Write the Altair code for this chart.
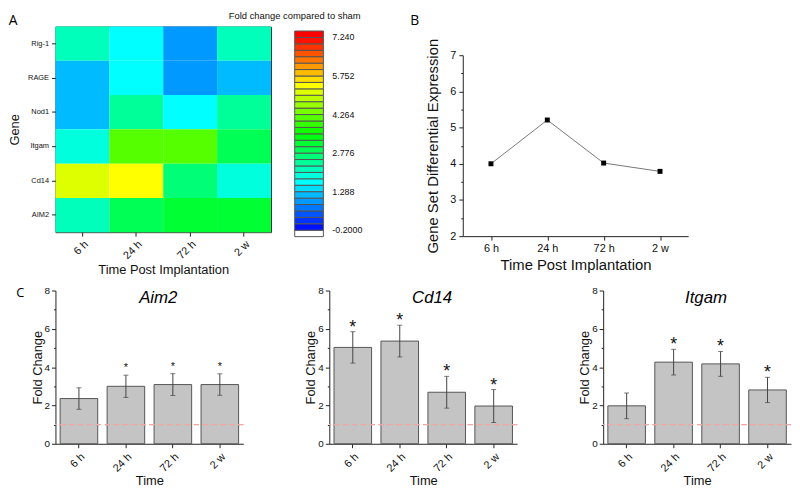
import altair as alt
import pandas as pd

FONT = "Liberation Sans"
LETTER_FONT = "Open Sans"

times = ["6 h", "24 h", "72 h", "2 w"]
genes = ["Rig-1", "RAGE", "Nod1", "Itgam", "Cd14", "AIM2"]

# Panel A heatmap values (fold change vs sham)
heat_rig1 = [2.1, 1.65, 0.9, 2.1]
heat_rage = [1.2, 1.7, 0.82, 1.04]
heat_nod1 = [1.2, 2.4, 1.7, 2.3]
heat_itgam = [1.9, 4.14, 4.14, 2.95]
heat_cd14 = [5.05, 5.38, 2.55, 1.85]
heat_aim2 = [2.2, 2.9, 3.2, 3.2]
cbar_ticks = [-0.2, 1.288, 2.776, 4.264, 5.752, 7.24]
cbar_labels = ["-0.2000", "1.288", "2.776", "4.264", "5.752", "7.240"]

# Panel B
b_values = [4.0, 5.21, 4.02, 3.79]

# Panel C
aim2_mean = [2.36, 3.0, 3.09, 3.09]
aim2_err = [0.56, 0.58, 0.57, 0.56]
aim2_sig = [False, True, True, True]
cd14_mean = [5.03, 5.36, 2.69, 1.97]
cd14_err = [0.82, 0.83, 0.83, 0.86]
cd14_sig = [True, True, True, True]
itgam_mean = [1.98, 4.26, 4.17, 2.81]
itgam_err = [0.67, 0.67, 0.65, 0.66]
itgam_sig = [False, True, True, True]

# ---------- colour scale (Origin rainbow, 30 levels + under/over bands)
anchors = [(0, 0, 255), (0, 255, 255), (0, 255, 0), (255, 255, 0), (255, 0, 0)]


def rainbow(t):
    seg = min(int(t * 4), 3)
    f = t * 4 - seg
    a, b = anchors[seg], anchors[seg + 1]
    return "#%02x%02x%02x" % tuple(round(a[i] + (b[i] - a[i]) * f) for i in range(3))


band_colors = ["#ffffff"] + [rainbow((k + 0.5) / 30) for k in range(30)] + ["#ff0000"]
step = (cbar_ticks[-1] - cbar_ticks[0]) / 30
cdomain = [cbar_ticks[0] - step, cbar_ticks[-1] + step]

label_expr = " : ".join(
    f"abs(datum.value - ({v})) < 0.01 ? '{s}'" for v, s in zip(cbar_ticks, cbar_labels)
) + " : ''"

heat_rows = {"Rig-1": heat_rig1, "RAGE": heat_rage, "Nod1": heat_nod1,
             "Itgam": heat_itgam, "Cd14": heat_cd14, "AIM2": heat_aim2}
heat_df = pd.DataFrame([
    {"gene": g, "time": t, "value": v}
    for g, vals in heat_rows.items() for t, v in zip(times, vals)
])

heat = alt.Chart(heat_df).mark_rect().encode(
    x=alt.X("time:N", sort=times, title="Time Post Implantation",
            axis=alt.Axis(labelAngle=-45, labelFontSize=11, titleFontSize=13, domain=False,
                          tickSize=4, labelPadding=2, titlePadding=3)),
    y=alt.Y("gene:N", sort=genes, title="Gene",
            axis=alt.Axis(labelFontSize=7.5, titleFontSize=13, domain=False, tickSize=4,
                          labelPadding=3, titlePadding=6)),
    color=alt.Color("value:Q",
                    scale=alt.Scale(type="quantize", domain=cdomain, range=band_colors, nice=False),
                    legend=alt.Legend(type="gradient", orient="none", legendX=175, legendY=-16,
                                      direction="vertical", gradientLength=208, gradientThickness=29,
                                      gradientStrokeColor="#555", gradientStrokeWidth=1,
                                      title="Fold change compared to sham", titleFontSize=9.5,
                                      titleFont=FONT, titleFontWeight="normal", titleAnchor="start",
                                      titleAlign="center", titleLimit=400, titlePadding=11,
                                      padding=0, labelExpr=label_expr, labelFontSize=9,
                                      labelFont=FONT, labelOffset=9, labelOverlap=False)),
).properties(
    width=218, height=208,
    view=alt.ViewBackground(stroke="#333", strokeWidth=1),
    title=alt.TitleParams("A", anchor="start", frame="bounds", fontSize=14, font=LETTER_FONT,
                          fontWeight="normal", offset=-1),
)

# ---------- Panel B
b_df = pd.DataFrame({"time": times, "value": b_values})
b_x = dict(field="time", type="nominal", sort=times, title="Time Post Implantation",
           scale=alt.Scale(type="point", padding=0.5))
b_line = alt.Chart(b_df).mark_line(
    color="#777", strokeWidth=1,
    point=alt.OverlayMarkDef(shape="square", filled=True, color="black", size=25, opacity=1),
).encode(
    x=alt.X(**b_x, axis=alt.Axis(labelAngle=0, labelFontSize=11, titleFontSize=15, tickSize=4,
                                 labelPadding=3, titlePadding=4)),
    y=alt.Y("value:Q", title="Gene Set Differential Expression",
            scale=alt.Scale(domain=[2, 7], nice=False, zero=False, range=[212, 29]),
            axis=alt.Axis(values=[2, 3, 4, 5, 6, 7], labelFontSize=11, titleFontSize=15,
                          tickSize=4, grid=False, orient="left", labelPadding=3, titlePadding=9)),
)
b_minor = alt.Chart(b_df).mark_point(opacity=0).encode(
    x=alt.X(**b_x),
    y=alt.Y("value:Q", axis=alt.Axis(values=[2.5, 3.5, 4.5, 5.5, 6.5], labels=False, domain=False,
                                     tickSize=2, title=None, grid=False, orient="left")),
)
panel_b = alt.layer(b_line, b_minor).resolve_axis(y="independent").properties(
    width=228, height=212,
    title=alt.TitleParams("B", anchor="start", frame="bounds", fontSize=14, font=LETTER_FONT,
                          fontWeight="normal", offset=-1, dx=-16),
)


# ---------- Panel C
def bar_panel(gene, means, errs, sig, star_size, star_dy):
    df = pd.DataFrame({"time": times, "mean": means, "err": errs,
                       "star": ["*" if s else "" for s in sig]})
    df["lo"] = df["mean"] - df["err"]
    df["hi"] = df["mean"] + df["err"]
    xkw = dict(field="time", type="nominal", sort=times, title="Time",
               scale=alt.Scale(paddingInner=0.2, paddingOuter=0.1))
    yscale = alt.Scale(domain=[0, 8], nice=False)
    bars = alt.Chart(df).mark_bar(color="#c4c4c4", stroke="#555", strokeWidth=1).encode(
        x=alt.X(**xkw, axis=alt.Axis(labelAngle=-45, labelFontSize=11, titleFontSize=13,
                                     tickSize=4, labelPadding=3, titlePadding=1)),
        y=alt.Y("mean:Q", scale=yscale, title="Fold Change",
                axis=alt.Axis(values=[0, 2, 4, 6, 8], labelFontSize=10, titleFontSize=13,
                              tickSize=4, grid=False, orient="left", labelPadding=2,
                              titlePadding=0)),
    )
    base = alt.Chart(df).encode(x=alt.X(**xkw))
    ref = alt.Chart(df).mark_rule(color="#f2a6a6", strokeDash=[5, 4], strokeWidth=1).encode(
        y=alt.datum(1, scale=yscale, axis=None))
    rule = base.mark_rule(color="#444", strokeWidth=1).encode(
        y=alt.Y("lo:Q", scale=yscale, axis=None), y2="hi:Q")
    cap_lo = base.mark_tick(color="#444", size=5, thickness=1).encode(
        y=alt.Y("lo:Q", scale=yscale, axis=None))
    cap_hi = base.mark_tick(color="#444", size=5, thickness=1).encode(
        y=alt.Y("hi:Q", scale=yscale, axis=None))
    stars = base.mark_text(fontSize=star_size, font=FONT, baseline="alphabetic", dy=star_dy,
                           color="#111").encode(
        y=alt.Y("hi:Q", scale=yscale, axis=None), text="star:N")
    minor = base.mark_point(opacity=0).encode(
        y=alt.Y("mean:Q", scale=yscale,
                axis=alt.Axis(values=[1, 3, 5, 7], labels=False, domain=False, tickSize=2,
                              title=None, grid=False, orient="left")),
    )
    return alt.layer(bars, ref, rule, cap_lo, cap_hi, stars, minor).resolve_axis(
        y="independent").properties(
        width=190, height=155,
        title=alt.TitleParams(gene, anchor="middle", frame="group", fontSize=17, font=FONT,
                              fontStyle="italic", fontWeight="normal", dx=9, offset=-22),
    )


aim2 = bar_panel("Aim2", aim2_mean, aim2_err, aim2_sig, 11, -4)
cd14 = bar_panel("Cd14", cd14_mean, cd14_err, cd14_sig, 18, 1)
itgam = bar_panel("Itgam", itgam_mean, itgam_err, itgam_sig, 18, 1)

row1 = alt.hconcat(heat, panel_b, spacing=139)
row2 = alt.hconcat(aim2, cd14, itgam, spacing=61).properties(
    title=alt.TitleParams("C", anchor="start", frame="bounds", fontSize=13, font=LETTER_FONT,
                          fontWeight="normal", dx=-15, dy=19))

chart = alt.concat(row1, row2, columns=1, align="none", spacing=8).properties(
    padding=0
).configure_view(
    stroke=None
).configure_axis(
    domainColor="#222", tickColor="#222", labelColor="#111", titleColor="#111",
    labelFont=FONT, titleFont=FONT, titleFontWeight="normal",
).configure_legend(labelColor="#111", titleColor="#111")

chart.save("out.html", embed_options={"renderer": "svg", "actions": False})
